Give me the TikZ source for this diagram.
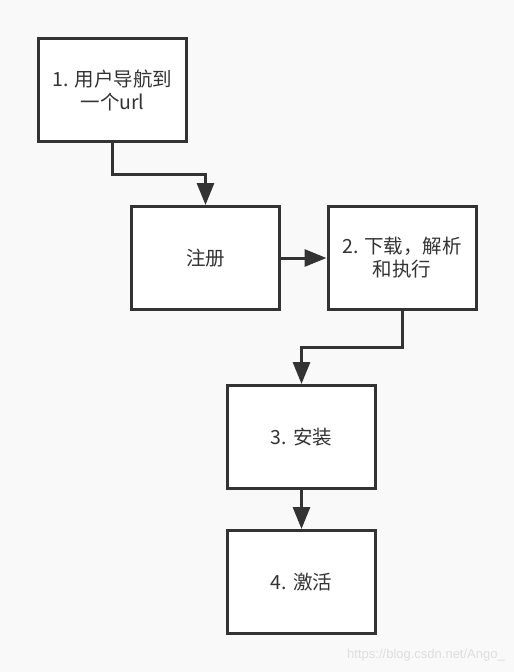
\documentclass[tikz,border=0pt]{standalone}
\usepackage{fontspec}
\setmainfont{Noto Sans CJK SC}
\newfontfamily\wmfont{Liberation Sans}
\usetikzlibrary{arrows.meta}
\definecolor{bg}{RGB}{249,249,249}
\definecolor{ink}{RGB}{51,51,51}
\definecolor{wm}{RGB}{222,222,222}
\begin{document}
\begin{tikzpicture}[x=1pt,y=-1pt,
  stepbox/.style={draw=ink,line width=3pt,fill=white,minimum width=148pt,minimum height=103pt,
    inner sep=0pt,align=center,text=ink,font=\fontsize{19.5}{23}\selectfont},
  conn/.style={draw=ink,line width=3pt,-{Triangle[length=22pt,width=17pt]}}]
\useasboundingbox (0,0) rectangle (514,672);
\fill[bg] (0,0) rectangle (514,672);
\node[stepbox] (s1) at (112.5,90) {1. 用户导航到\\一个url};
\node[stepbox] (reg) at (205.5,258) {注册};
\node[stepbox] (s2) at (402,258) {2. 下载，解析\\和执行};
\node[stepbox] (s3) at (301.5,437) {3. 安装};
\node[stepbox] (s4) at (301.5,582) {4. 激活};
\draw[conn] (s1.south) |- (205.5,174) -- (reg.north);
\draw[conn] (reg.east) -- (s2.west);
\draw[conn] (s2.south) |- (301.5,347) -- (s3.north);
\draw[conn] (s3.south) -- (s4.north);
\node[anchor=east,text=wm,font=\wmfont\fontsize{13}{15}\selectfont,inner sep=0pt] (wmk) at (505,655) {https://blog.csdn.net/Ango\_};
\end{tikzpicture}
\end{document}
